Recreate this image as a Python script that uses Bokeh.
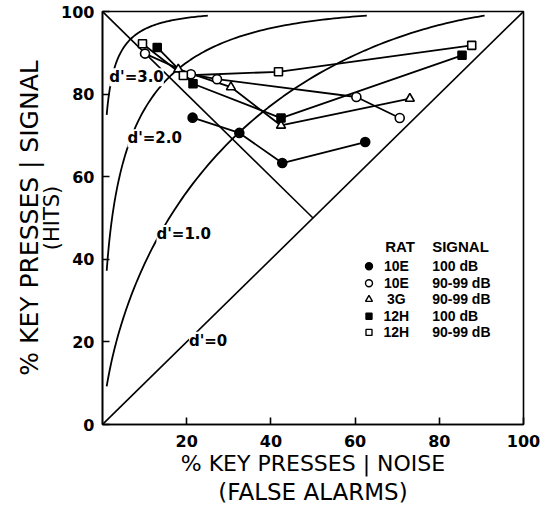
import math
from bokeh.plotting import figure
from bokeh.models import Range1d, FixedTicker, Label, LinearAxis
from bokeh.core.properties import value
from bokeh.embed import file_html
from bokeh.resources import INLINE

# ---------------- data ----------------
x_ticks = [20, 40, 60, 80, 100]
y_ticks = [0, 20, 40, 60, 80, 100]

x_title = "% KEY PRESSES | NOISE"
x_subtitle = "(FALSE ALARMS)"
y_title = "% KEY PRESSES | SIGNAL"
y_subtitle = "(HITS)"

# d' iso-sensitivity curves (theoretical ROC curves)
d_primes = [3.0, 2.0, 1.0]
d_labels = ["d'=3.0", "d'=2.0", "d'=1.0", "d'=0"]
d_label_x = [2.1, 6.4, 13.3, 21.0]
d_label_y = [84.1, 69.3, 46.1, 20.3]
z_lo, z_hi = -2.326, 2.326   # curves drawn from 1% false alarms up to 99% hits

chance_x = [0, 100]
chance_y = [0, 100]
neg_diag_x = [0, 50]
neg_diag_y = [100, 50]

# Rat 10E, 100 dB (filled circle)
e10_100_x = [21.4, 32.5, 42.7, 62.4]
e10_100_y = [74.3, 70.6, 63.3, 68.4]
# Rat 10E, 90-99 dB (open circle)
e10_90_x = [10.1, 21.0, 27.2, 60.3, 70.6]
e10_90_y = [89.8, 84.8, 83.6, 79.3, 74.2]
# Rat 3G, 90-99 dB (open triangle)
g3_90_x = [18.0, 30.5, 42.4, 73.0]
g3_90_y = [86.0, 81.7, 72.4, 78.9]
# Rat 12H, 100 dB (filled square)
h12_100_x = [13.0, 21.5, 42.4, 85.4]
h12_100_y = [91.3, 82.5, 74.2, 89.4]
# Rat 12H, 90-99 dB (open square)
h12_90_x = [9.5, 19.2, 41.8, 87.7]
h12_90_y = [92.2, 84.5, 85.4, 91.8]

leg_rat = ["10E", "10E", "3G", "12H", "12H"]
leg_signal = ["100 dB", "90-99 dB", "90-99 dB", "100 dB", "90-99 dB"]

# ---------------- figure ----------------
p = figure(width=545, height=507, output_backend="svg", toolbar_location=None,
           x_range=Range1d(0, 100), y_range=Range1d(0, 100),
           min_border_left=102, min_border_right=22, min_border_top=11,
           min_border_bottom=83, background_fill_color="white",
           border_fill_color="white")
p.grid.visible = False
p.outline_line_color = "black"
p.outline_line_width = 1.6

p.xaxis.ticker = FixedTicker(ticks=x_ticks)
p.yaxis.ticker = FixedTicker(ticks=y_ticks)
p.axis.major_tick_in = 7
p.axis.major_tick_out = 0
p.axis.minor_tick_line_color = None
p.axis.axis_line_width = 1.6
p.axis.major_tick_line_width = 1.6
p.axis.major_label_text_font = "DejaVu Sans"
p.axis.major_label_text_font_style = "bold"
p.axis.major_label_text_font_size = "16px"
p.axis.major_label_text_color = "black"
p.xaxis.major_label_standoff = 10
p.yaxis.major_label_standoff = 8
p.axis.axis_label_text_font = "DejaVu Sans"
p.axis.axis_label_text_font_style = "normal"
p.axis.axis_label_text_color = "black"
p.xaxis.axis_label_text_font_size = "22px"
p.yaxis.axis_label_text_font_size = "21px"
p.xaxis.axis_label_standoff = 1
p.yaxis.axis_label_standoff = -6
p.xaxis.axis_label = x_title
p.yaxis.axis_label = y_subtitle


def label_axis(text, size, standoff):
    ax = LinearAxis(ticker=FixedTicker(ticks=[]), axis_label=text,
                    axis_line_color=None, major_tick_line_color=None,
                    minor_tick_line_color=None, major_tick_out=0,
                    minor_tick_out=0, major_label_standoff=0,
                    axis_label_standoff=standoff,
                    axis_label_text_font="DejaVu Sans",
                    axis_label_text_font_style="normal",
                    axis_label_text_font_size=size,
                    axis_label_text_color="black")
    return ax


p.add_layout(label_axis(x_subtitle, "23px", 0), "below")
p.add_layout(label_axis(y_title, "25px", -6), "left")


def phi(z):
    return 0.5 * (1.0 + math.erf(z / math.sqrt(2.0)))


# reference lines
p.line(chance_x, chance_y, line_color="black", line_width=1.6)
p.line(neg_diag_x, neg_diag_y, line_color="black", line_width=1.6)

# d' curves
for d in d_primes:
    n = 120
    zs = [z_lo + (z_hi - d - z_lo) * i / (n - 1) for i in range(n)]
    cx = [100 * phi(z) for z in zs]
    cy = [100 * phi(z + d) for z in zs]
    p.line(cx, cy, line_color="black", line_width=1.8)

for t, lx, ly in zip(d_labels, d_label_x, d_label_y):
    p.add_layout(Label(x=lx, y=ly, text=t, text_baseline="middle",
                       text_font="DejaVu Sans", text_font_style="bold",
                       text_font_size="15px", text_color="black",
                       background_fill_color="white", x_offset=-2))

series = [
    (e10_100_x, e10_100_y, "circle", "black", 9),
    (e10_90_x, e10_90_y, "circle", "white", 9),
    (g3_90_x, g3_90_y, "triangle", "white", 9),
    (h12_100_x, h12_100_y, "square", "black", 8),
    (h12_90_x, h12_90_y, "square", "white", 8),
]
for sx, sy, _, _, _ in series:
    p.line(sx, sy, line_color="black", line_width=1.8)
for sx, sy, mk, fc, sz in series:
    p.scatter(sx, sy, marker=mk, size=sz, fill_color=fc, line_color="black",
              line_width=1.6)

# legend (custom two-column layout)
leg_marker_x = 63.3
leg_rat_x = 69.8
leg_head_rat_x = 70.7
leg_sig_x = 78.3
leg_head_y = 43.0
leg_row_y = [38.3, 34.2, 30.3, 26.2, 22.3]

p.text(x=[leg_head_rat_x], y=[leg_head_y], text=["RAT"], text_align="center",
       text_baseline="middle", text_font=value("Liberation Sans"),
       text_font_style="bold", text_font_size="15px", text_color="black")
p.text(x=[leg_sig_x], y=[leg_head_y], text=["SIGNAL"], text_align="left",
       text_baseline="middle", text_font=value("Liberation Sans"),
       text_font_style="bold", text_font_size="15px", text_color="black")
for (sx, sy, mk, fc, sz), ry in zip(series, leg_row_y):
    p.scatter([leg_marker_x], [ry], marker=mk, size=sz - 2, fill_color=fc,
              line_color="black", line_width=1.4)
p.text(x=[leg_rat_x] * len(leg_rat), y=leg_row_y, text=leg_rat,
       text_align="center", text_baseline="middle",
       text_font=value("Liberation Sans"), text_font_style="bold",
       text_font_size="14px", text_color="black")
p.text(x=[leg_sig_x] * len(leg_signal), y=leg_row_y, text=leg_signal,
       text_align="left", text_baseline="middle",
       text_font=value("Liberation Sans"), text_font_style="bold",
       text_font_size="14px", text_color="black")

open("out.html", "w").write(file_html(p, INLINE))
